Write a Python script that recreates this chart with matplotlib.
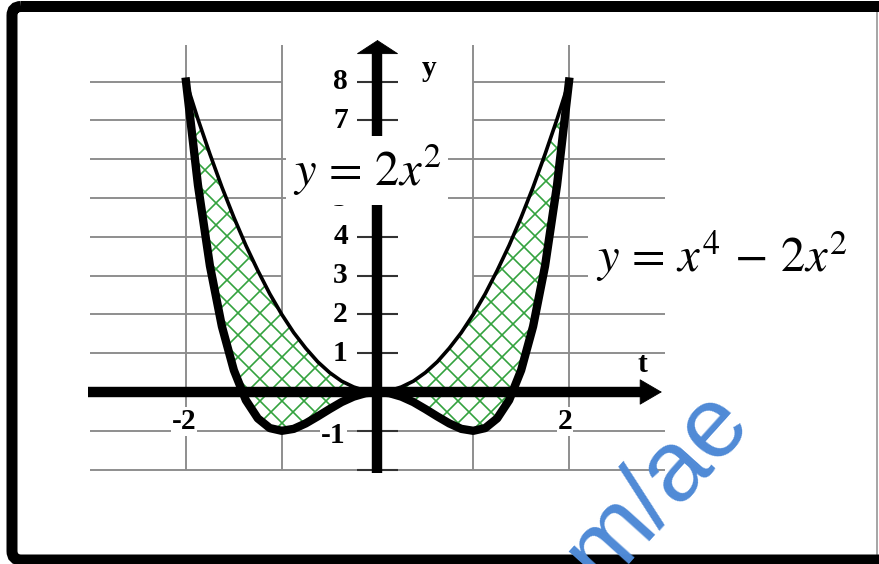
import numpy as np
import matplotlib.pyplot as plt
from matplotlib.patches import FancyBboxPatch
from matplotlib.lines import Line2D
from matplotlib.collections import LineCollection
from matplotlib.transforms import Affine2D

# figure size in pixels
W = 879
H = 564
DPI = 125

# curve samples (x step 1/8)
xs = [-2, -1.875, -1.75, -1.625, -1.5, -1.375, -1.25, -1.125, -1,
      -0.875, -0.75, -0.625, -0.5, -0.375, -0.25, -0.125, 0,
      0.125, 0.25, 0.375, 0.5, 0.625, 0.75, 0.875, 1,
      1.125, 1.25, 1.375, 1.5, 1.625, 1.75, 1.875, 2]
y_outer = [8, 5.33, 3.25, 1.69, 0.56, -0.21, -0.68, -0.93, -1,
           -0.95, -0.81, -0.63, -0.44, -0.26, -0.12, -0.03, 0,
           -0.03, -0.12, -0.26, -0.44, -0.63, -0.81, -0.95, -1,
           -0.93, -0.68, -0.21, 0.56, 1.69, 3.25, 5.33, 8]
y_inner = [8, 7.03, 6.13, 5.28, 4.5, 3.78, 3.13, 2.53, 2,
           1.53, 1.13, 0.78, 0.5, 0.28, 0.13, 0.03, 0,
           0.03, 0.13, 0.28, 0.5, 0.78, 1.13, 1.53, 2,
           2.53, 3.13, 3.78, 4.5, 5.28, 6.13, 7.03, 8]

# grid
grid_x = [-2, -1, 1, 2]
rows_full = [-2, -1, 5, 6]
rows_side = [1, 2, 3, 4, 7, 8]
tick_y = [-2, -1, 1, 2, 3, 4, 5, 6, 7, 8]
ylabels = ['8', '7', '5', '4', '3', '2', '1']   # 6 is hidden under y=2x^2
ylabel_pos = [8, 7, 5, 4, 3, 2, 1]

plt.rcParams['mathtext.fontset'] = 'stix'

green = '#33a23e'
gris = '#8c8c8c'

fig = plt.figure(figsize=(W / DPI, H / DPI), dpi=DPI)
ax = fig.add_axes([0, 0, 1, 1])
ax.set_xlim(-377.5 / 95.75, (W - 377.5) / 95.75)
ax.set_ylim((392 - H) / 38.8, 392 / 38.8)
ax.axis('off')

pix = Affine2D().scale(1 / W, -1 / H).translate(0, 1) + fig.transFigure

# grid lines
ax.vlines(grid_x, -2, 8.95, color=gris, lw=1.1, zorder=1)
ax.hlines(rows_full, -3, 3, color=gris, lw=1.1, zorder=1)
ax.hlines(rows_side, -3, -1, color=gris, lw=1.1, zorder=1)
ax.hlines(rows_side, 1, 3, color=gris, lw=1.1, zorder=1)
ax.hlines(tick_y, -0.21, 0.21, color='#333333', lw=1.2, zorder=1.5)

# region between the two curves: white, with a green cross hatch
zone = ax.fill_between(xs, y_outer, y_inner, facecolor='white', linewidth=0, zorder=2)
pas = 22  # hatch spacing in pixels
segs = []
for c in range(-W, W + H, pas):
    segs.append([(0, c), (W, c - W)])
    segs.append([(0, c - H), (W, c - H + W)])
hatch = LineCollection(segs, colors=green, linewidths=0.95, transform=pix, zorder=2.1)
hatch.set_clip_path(zone.get_paths()[0], ax.transData)
ax.add_collection(hatch, autolim=False)

ax.plot(xs, y_inner, color='black', lw=2.1, zorder=3)
ax.plot(xs, y_outer, color='black', lw=4.8, zorder=3.1, solid_joinstyle='round')

# axes with arrows
ax.plot([-3.02, 2.8], [0, 0], color='black', lw=6, solid_capstyle='butt', zorder=5)
ax.plot([0, 0], [-2.1, 8.8], color='black', lw=6, solid_capstyle='butt', zorder=5)
ax.annotate('', xy=(0, 9.07), xytext=(0, 8.6),
            arrowprops=dict(arrowstyle='-|>,head_length=7.5,head_width=11.5',
                            mutation_scale=1, lw=0.5, color='black',
                            shrinkA=0, shrinkB=0), zorder=5)
ax.annotate('', xy=(2.97, 0), xytext=(2.6, 0),
            arrowprops=dict(arrowstyle='-|>,head_length=12,head_width=7',
                            mutation_scale=1, lw=0.5, color='black',
                            shrinkA=0, shrinkB=0), zorder=5)

# tick labels
lab = dict(family='Liberation Serif', weight='bold', fontsize=17, zorder=6)
for v, s in zip(ylabel_pos, ylabels):
    ax.text(-0.31, v, s, ha='right', va='center', **lab)
ax.text(-0.33, -1.13, '-1', ha='right', va='center',
        bbox=dict(facecolor='white', edgecolor='none', pad=0.5), **lab)
ax.text(-2.02, -0.77, '-2', ha='center', va='center',
        bbox=dict(facecolor='white', edgecolor='none', pad=0.5), **lab)
ax.text(1.96, -0.77, '2', ha='center', va='center',
        bbox=dict(facecolor='white', edgecolor='none', pad=0.5), **lab)
ax.text(0.54, 8.35, 'y', ha='center', va='center', **lab)
ax.text(2.77, 0.70, 't', ha='center', va='center', **lab)

# equations
ax.text(-0.11, 5.72, r'$y\,=\,2x^2$', fontsize=28, ha='center', va='center', zorder=7,
        bbox=dict(facecolor='white', edgecolor='none', pad=4))
ax.text(3.6, 3.5, r'$y\,=\,x^4\,-\,2x^2$', fontsize=28, ha='center', va='center',
        zorder=7, bbox=dict(facecolor='white', edgecolor='none', pad=5))

# frame
frame = FancyBboxPatch((12, 6.5), 893, 553.5, boxstyle='round,pad=0,rounding_size=9',
                       transform=pix, facecolor='none', edgecolor='black',
                       lw=11 * 72 / DPI, zorder=10)
fig.add_artist(frame)
fig.add_artist(Line2D([877, 877], [12, 554], transform=pix, color='#9a9a9a', lw=1))

# watermark
fig.text(657 / W, 1 - 487 / H, 'm/ae', family='Liberation Sans', fontsize=58,
         color='#4f8ad6', rotation=48, ha='center', va='center', zorder=20)

fig.savefig('out.png', dpi=DPI)
